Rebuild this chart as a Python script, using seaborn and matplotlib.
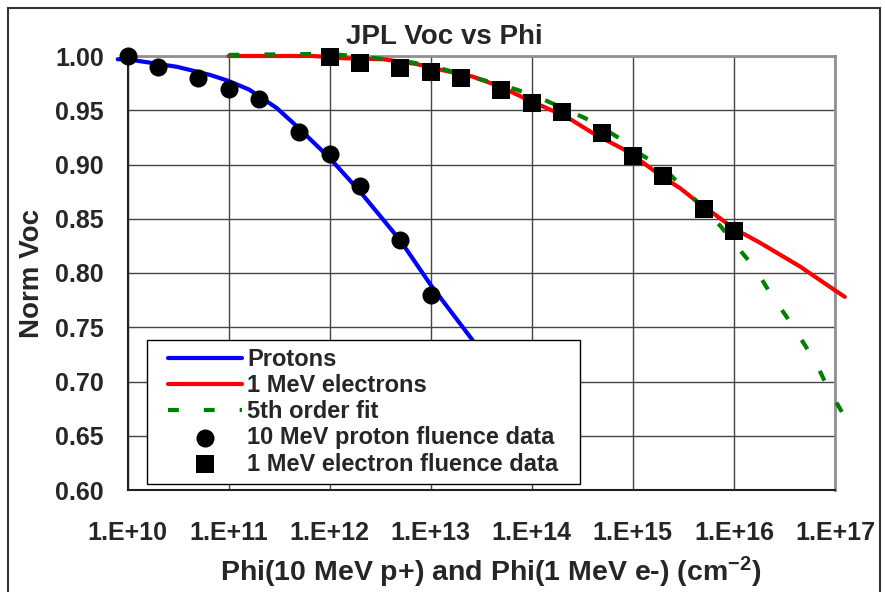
import numpy as np
import pandas as pd
import matplotlib
matplotlib.use("Agg")
import matplotlib.pyplot as plt
import seaborn as sns
from matplotlib.patches import Rectangle
from matplotlib.lines import Line2D
from matplotlib.collections import PathCollection
from matplotlib.legend_handler import HandlerLine2D, HandlerPathCollection

# proton model curve (fluence, normalized Voc)
proton_phi = [8e9, 1e10, 3.1e10, 6.6e10, 1e11, 1.6e11, 3e11, 4.7e11, 1e12, 2e12,
              5e12, 1e13, 2.6e13, 5e13, 1e14]
proton_voc = [0.997, 0.997, 0.990, 0.9825, 0.977, 0.969, 0.952, 0.9355, 0.906, 0.875,
              0.830, 0.789, 0.738, 0.69, 0.645]

# 1 MeV electron model curve
electron_phi = [1e11, 7e11, 1.3e12, 3.4e12, 7.2e12, 1.3e13, 2.6e13, 4.8e13, 1e14, 2.2e14,
                4e14, 9.3e14, 1.86e15, 2.95e15, 3.9e15, 1e16, 1.8e16, 4.5e16, 1e17, 1.25e17]
electron_voc = [1.0, 1.0, 0.998, 0.997, 0.9926, 0.987, 0.981, 0.972, 0.958, 0.944,
                0.929, 0.911, 0.890, 0.878, 0.869, 0.841, 0.828, 0.806, 0.784, 0.778]

# 5th order polynomial fit
fit_phi = [1e11, 1e12, 3.7e12, 6.6e12, 1.2e13, 3.9e13, 7.1e13, 1.3e14, 2.4e14, 4.1e14,
           7.4e14, 1.26e15, 2e15, 3.2e15, 7.4e15, 1.1e16, 1.6e16, 2.3e16, 3.3e16,
           4.7e16, 6.5e16, 8.5e16, 1.17e17]
fit_voc = [1.001, 1.002, 0.997, 0.994, 0.989, 0.976, 0.969, 0.960, 0.949, 0.939,
           0.924, 0.908, 0.897, 0.878, 0.843, 0.823, 0.805, 0.781, 0.760,
           0.738, 0.717, 0.694, 0.672]

# measured points
proton_data_phi = [1e10, 2e10, 5e10, 1e11, 2e11, 5e11, 1e12, 2e12, 5e12, 1e13]
proton_data_voc = [1.00, 0.99, 0.98, 0.97, 0.96, 0.93, 0.91, 0.88, 0.83, 0.78]

electron_data_phi = [1e12, 2e12, 5e12, 1e13, 2e13, 5e13, 1e14, 2e14, 5e14, 1e15,
                     2e15, 5e15, 1e16]
electron_data_voc = [0.999, 0.994, 0.989, 0.985, 0.980, 0.969, 0.957, 0.948, 0.929, 0.908,
                     0.889, 0.859, 0.839]

xticks = [1e10, 1e11, 1e12, 1e13, 1e14, 1e15, 1e16, 1e17]
xtick_labels = ["1.E+10", "1.E+11", "1.E+12", "1.E+13", "1.E+14", "1.E+15", "1.E+16", "1.E+17"]
yticks = [0.60, 0.65, 0.70, 0.75, 0.80, 0.85, 0.90, 0.95, 1.00]

sns.set_style("white")
plt.rcParams["font.family"] = ["Liberation Sans", "DejaVu Sans"]
plt.rcParams["font.weight"] = "bold"
plt.rcParams["mathtext.fontset"] = "custom"
plt.rcParams["mathtext.rm"] = "Liberation Sans:bold"
plt.rcParams["mathtext.bf"] = "Liberation Sans:bold"
plt.rcParams["mathtext.default"] = "bf"

fig = plt.figure(figsize=(8.85, 5.92), dpi=100)
ax = fig.add_axes([127.5 / 885, 1 - 490 / 592, 707.5 / 885, 434 / 592])

sns.lineplot(x=proton_phi, y=proton_voc, ax=ax, color="#0000ff", linewidth=3,
             sort=False, estimator=None, label="Protons", clip_on=False, zorder=3)
sns.lineplot(x=electron_phi, y=electron_voc, ax=ax, color="#ff0000", linewidth=3,
             sort=False, estimator=None, label="1 MeV electrons", clip_on=False, zorder=3)
sns.lineplot(x=fit_phi, y=fit_voc, ax=ax, color="#008000", linewidth=3,
             linestyle=(0, (2.6, 6.0)), sort=False, estimator=None,
             label="5th order fit", clip_on=False, zorder=3)
sns.scatterplot(x=proton_data_phi, y=proton_data_voc, ax=ax, color="black", marker="o",
                s=13 ** 2, linewidth=0, label="10 MeV proton fluence data",
                clip_on=False, zorder=4)
sns.scatterplot(x=electron_data_phi, y=electron_data_voc, ax=ax, color="black", marker="s",
                s=12.5 ** 2, linewidth=0, label="1 MeV electron fluence data",
                clip_on=False, zorder=4)

ax.set_xscale("log")
ax.set_xlim(1e10, 1e17)
ax.set_ylim(0.60, 1.00)
ax.set_xticks(xticks)
ax.set_xticklabels(xtick_labels)
ax.xaxis.set_minor_locator(matplotlib.ticker.NullLocator())
ax.set_yticks(yticks)
ax.set_yticklabels([f"{v:.2f}" for v in yticks])
ax.tick_params(axis="both", length=0, labelsize=18)
ax.tick_params(axis="y", pad=17)
ax.tick_params(axis="x", pad=22)
ax.grid(True, color="#454545", linewidth=1.0)
ax.set_axisbelow(True)

for side in ["left", "bottom"]:
    ax.spines[side].set_color("#202020")
    ax.spines[side].set_linewidth(1.5)
for side in ["top", "right"]:
    ax.spines[side].set_color("#909090")
    ax.spines[side].set_linewidth(2)

ax.set_ylabel("Norm Voc", fontsize=20, fontweight="bold", va="center")
ax.yaxis.set_label_coords(-0.1354, 0.5)
ax.set_xlabel(r"Phi(10 MeV p+) and Phi(1 MeV e-) (cm$^{-2}$)", fontsize=20.5,
              fontweight="bold")
ax.xaxis.set_label_coords(0.513, -0.150)

fig.text(444 / 885, 1 - 44 / 592, "JPL Voc vs Phi", ha="center", va="baseline",
         fontsize=20, fontweight="bold")

handles, labels = ax.get_legend_handles_labels()
leg = ax.legend(handles, labels, loc="upper left",
                bbox_to_anchor=(0.0269, 0.0207, 0.6127, 0.3249), mode="expand",
                borderaxespad=0, fontsize=17, frameon=True, fancybox=False,
                framealpha=1, edgecolor="black", handlelength=3.7, handletextpad=0.2,
                labelspacing=0.13, borderpad=0.35, scatterpoints=1,
                handler_map={Line2D: HandlerLine2D(xpad=0.55),
                             PathCollection: HandlerPathCollection(xpad=0.55)})
leg.get_frame().set_linewidth(1.0)
leg.set_zorder(10)
for t in leg.get_texts():
    t.set_fontweight("bold")

# outer chart border
fig.patches.append(Rectangle((8 / 885, -0.05), 872 / 885, 1.05 - 8 / 592,
                             transform=fig.transFigure, fill=False,
                             edgecolor="#333333", linewidth=1.5))

fig.savefig("out.png", dpi=100)
